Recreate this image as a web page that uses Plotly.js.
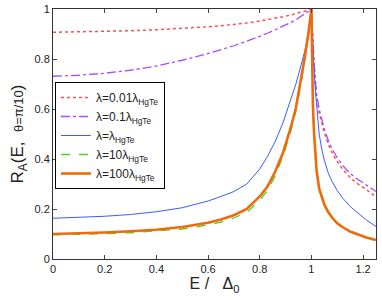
<!DOCTYPE html>
<html><head><meta charset="utf-8">
<script src="https://cdn.plot.ly/plotly-3.0.1.min.js"></script>
<style>html,body{margin:0;padding:0;background:#fff}</style>
</head><body><div id="plot" style="width:382px;height:300px"></div>
<script>
var seriesNames = ['λ=0.01λ<sub>HgTe</sub>','λ=0.1λ<sub>HgTe</sub>','λ=λ<sub>HgTe</sub>','λ=10λ<sub>HgTe</sub>','λ=100λ<sub>HgTe</sub>'];
var xLeft  = [0, 0.1, 0.2, 0.3, 0.4, 0.5, 0.6, 0.65, 0.7, 0.75, 0.8, 0.83, 0.86, 0.89, 0.92, 0.94, 0.96, 0.975, 0.99, 1.0];
var xRight = [1.0, 1.003, 1.006, 1.01, 1.015, 1.02, 1.03, 1.04, 1.05, 1.065, 1.08, 1.1, 1.12, 1.15, 1.18, 1.21, 1.25];
var redL    = [0.907, 0.908, 0.910, 0.913, 0.917, 0.922, 0.929, 0.933, 0.938, 0.944, 0.952, 0.957, 0.963, 0.969, 0.976, 0.981, 0.986, 0.99, 0.996, 1.0];
var redR    = [1.0, 0.925, 0.86, 0.78, 0.71, 0.65, 0.585, 0.54, 0.505, 0.46, 0.425, 0.39, 0.36, 0.325, 0.30, 0.28, 0.248];
var purpleL = [0.731, 0.735, 0.743, 0.755, 0.772, 0.795, 0.822, 0.837, 0.853, 0.871, 0.89, 0.903, 0.917, 0.93, 0.946, 0.957, 0.97, 0.979, 0.992, 1.0];
var purpleR = [1.0, 0.93, 0.87, 0.79, 0.72, 0.66, 0.60, 0.555, 0.52, 0.475, 0.44, 0.405, 0.375, 0.342, 0.318, 0.298, 0.27];
var blueL   = [0.163, 0.166, 0.171, 0.178, 0.189, 0.205, 0.232, 0.25, 0.27, 0.30, 0.36, 0.41, 0.47, 0.545, 0.64, 0.70, 0.775, 0.835, 0.91, 1.0];
var blueR   = [1.0, 0.92, 0.85, 0.77, 0.68, 0.61, 0.50, 0.44, 0.395, 0.345, 0.31, 0.274, 0.245, 0.21, 0.183, 0.158, 0.13];
var greenL  = [0.097, 0.098, 0.101, 0.105, 0.111, 0.120, 0.136, 0.148, 0.164, 0.187, 0.235, 0.275, 0.333, 0.41, 0.51, 0.592, 0.70, 0.80, 0.91, 1.0];
var greenR  = [1.0, 0.73, 0.60, 0.50, 0.40, 0.348, 0.277, 0.241, 0.215, 0.185, 0.163, 0.141, 0.126, 0.108, 0.096, 0.086, 0.074];
var orangeL = [0.100, 0.102, 0.106, 0.111, 0.117, 0.128, 0.145, 0.158, 0.175, 0.20, 0.25, 0.29, 0.35, 0.425, 0.525, 0.605, 0.715, 0.81, 0.915, 1.0];
var orangeR = [1.0, 0.74, 0.61, 0.51, 0.41, 0.355, 0.282, 0.245, 0.218, 0.188, 0.166, 0.143, 0.128, 0.110, 0.097, 0.087, 0.076];

var styles = [
  {color:'#ff4d4d', dash:'dot', width:1.5},
  {color:'#a64dff', dash:'dashdot', width:1.3},
  {color:'#3a5cff', dash:'solid', width:1},
  {color:'#4cd31f', dash:'dash', width:1.3},
  {color:'#ee6a0c', dash:'solid', width:2.6}
];
var leftData = [redL, purpleL, blueL, greenL, orangeL];
var rightData = [redR, purpleR, blueR, greenR, orangeR];
var traces = [];
for (var i = 0; i < 5; i++) {
  var ln = {color:styles[i].color, dash:styles[i].dash, width:styles[i].width, shape:'linear'};
  traces.push({x:xLeft, y:leftData[i], mode:'lines', name:seriesNames[i], legendgroup:'g'+i, line:ln});
  traces.push({x:xRight, y:rightData[i], mode:'lines', name:seriesNames[i], legendgroup:'g'+i, showlegend:false, line:ln});
}
var layout = {
  width:382, height:300,
  margin:{l:53, r:6, t:9, b:41},
  paper_bgcolor:'#fff', plot_bgcolor:'#fff',
  font:{family:'Liberation Sans, Arial, sans-serif', color:'#222', size:11},
  showlegend:true,
  legend:{x:0.006, y:0.708, xanchor:'left', yanchor:'top', bgcolor:'#fff', bordercolor:'#000', borderwidth:1, font:{size:12}, tracegroupgap:0},
  xaxis:{range:[0,1.25], tickvals:[0,0.2,0.4,0.6,0.8,1,1.2], ticktext:['0','0.2','0.4','0.6','0.8','1','1.2'], ticks:'inside', ticklen:4, tickcolor:'#444', showline:true, linecolor:'#333', linewidth:1, mirror:'ticks', showgrid:false, zeroline:false,
    tickfont:{size:11},
    title:{text:'E /   Δ<sub>0</sub>', font:{size:16}, standoff:3}},
  yaxis:{range:[0,1], tickvals:[0,0.2,0.4,0.6,0.8,1], ticktext:['0','0.2','0.4','0.6','0.8','1'], ticks:'inside', ticklen:4, tickcolor:'#444', showline:true, linecolor:'#333', linewidth:1, mirror:'ticks', showgrid:false, zeroline:false,
    tickfont:{size:11},
    title:{text:'R<sub>A</sub>(E,  <span style="font-size:13px">θ=π/10</span>)', font:{size:17}, standoff:6}}
};
Plotly.newPlot('plot', traces, layout, {displayModeBar:false, staticPlot:true});
</script></body></html>
